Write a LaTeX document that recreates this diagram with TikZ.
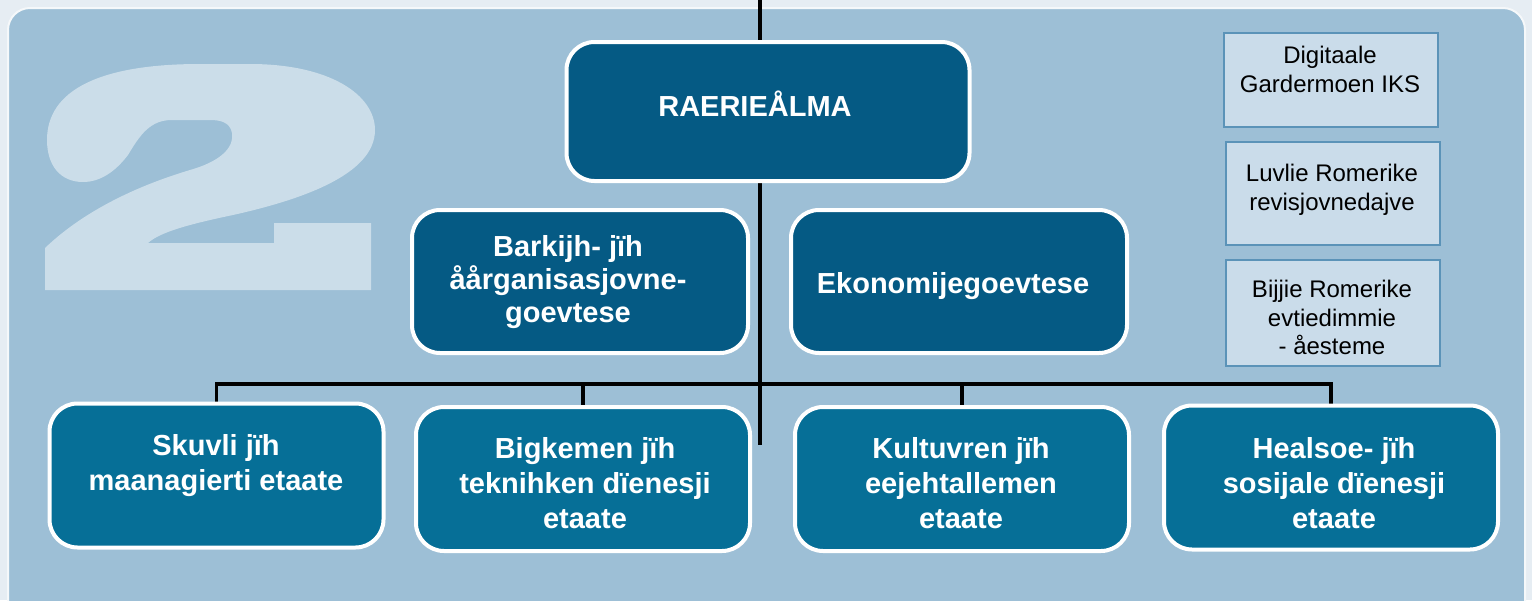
\documentclass[tikz,border=0pt]{standalone}
\usepackage{fontspec}
\setmainfont{Liberation Sans}
\usepackage{tikz}
\usetikzlibrary{positioning,backgrounds}
\definecolor{pagebg}{HTML}{E6EDF3}
\definecolor{panelbg}{HTML}{9DBFD6}
\definecolor{digitbg}{HTML}{CBDDE9}
\definecolor{boxdark}{HTML}{055A84}
\definecolor{boxteal}{HTML}{066F97}
\definecolor{notefill}{HTML}{CADCEA}
\definecolor{noteline}{HTML}{5B93B8}
\tikzset{
	lead/.style={draw=white,line width=2pt,fill=boxdark,rounded corners=14pt,minimum width=168pt,minimum height=71.5pt},
	unit/.style={draw=white,line width=2pt,fill=boxteal,rounded corners=14pt,minimum width=167pt,minimum height=72pt},
	note/.style={draw=noteline,line width=1pt,fill=notefill,minimum width=107pt},
	whitetext/.style={text=white,font=\bfseries\fontsize{14.5}{17.5}\selectfont,align=center,inner sep=0pt,anchor=north},
	notetext/.style={font=\fontsize{12}{14.3}\selectfont,align=center,inner sep=0pt,anchor=north},
	wire/.style={line width=1.6pt}
}

\begin{document}
\begin{tikzpicture}[x=0.5pt,y=-0.5pt]
			\useasboundingbox (0,0) rectangle (1532,600);
			\node[lead,minimum width=201.5pt,minimum height=69.5pt] (raerie) at (768,111.5) {};
			\node[lead] (barkijh) at (580,281.5) {};
			\node[lead] (ekonomi) at (959,281.5) {};
			\node[unit] (skuvle) at (216.5,475.5) {};
			\node[unit] (bigkeme) at (583,479) {};
			\node[unit] (kultuvre) at (962,479) {};
			\node[unit] (healsoe) at (1331,477.5) {};
			\node[note,minimum height=47pt] (digitaale) at (1331,79.5) {};
			\node[note,minimum height=51.5pt] (revisjovne) at (1332.5,193) {};
			\node[note,minimum height=53pt] (evtiedimmie) at (1333,312.5) {};
			\node[whitetext] (raerie-t) at (755,91) {RAERIEÅLMA};
			\node[whitetext,font=\bfseries\fontsize{14.5}{16.5}\selectfont] (barkijh-t) at (568,235) {Barkijh- jïh\\åårganisasjovne-\\goevtese};
			\node[whitetext] (ekonomi-t) at (953,272) {Ekonomijegoevtese};
			\node[whitetext] (skuvle-t) at (216,434) {Skuvli jïh\\maanagierti etaate};
			\node[whitetext] (bigkeme-t) at (585,437) {Bigkemen jïh\\teknihken dïenesji\\etaate};
			\node[whitetext] (kultuvre-t) at (961,437) {Kultuvren jïh\\eejehtallemen\\etaate};
			\node[whitetext] (healsoe-t) at (1334,437) {Healsoe- jïh\\sosijale dïenesji\\etaate};
			\node[notetext] (digitaale-t) at (1330,46) {Digitaale\\Gardermoen IKS};
			\node[notetext] (revisjovne-t) at (1332,164) {Luvlie Romerike\\revisjovnedajve};
			\node[notetext] (evtiedimmie-t) at (1332,280) {Bijjie Romerike\\evtiedimmie\\- åesteme};
			\coordinate (trunk-top) at (760,0);
			\coordinate (trunk-end) at (760,445);
			\coordinate (bus) at (0,384);
			\begin{scope}[on background layer]
				\fill[pagebg] (0,0) rectangle (1532,600);
				\filldraw[fill=panelbg,draw=pagebg!40!white,line width=1pt,rounded corners=11pt] (8,8) rectangle (1525,650);
				% big number two
				\fill[digitbg] (47,140) .. controls (47,90) and (100,64) .. (200,64) -- (250,64)
					.. controls (330,64) and (375,95) .. (375,130)
					.. controls (375,175) and (300,200) .. (233,215)
					.. controls (190,224) and (160,232) .. (148,243)
					-- (274,243) -- (274,223) -- (371,223) -- (371,290) -- (45,290) -- (45,248)
					.. controls (90,205) and (150,182) .. (190,170)
					.. controls (225,160) and (234,145) .. (232,133)
					.. controls (230,122) and (220,120) .. (210,120) -- (172,120)
					.. controls (150,120) and (140,135) .. (128,155)
					.. controls (115,172) and (100,182) .. (83,182)
					.. controls (60,182) and (47,165) .. (47,140) -- cycle;
				\draw[wire] (trunk-top) -- (trunk-end);
				\draw[wire] (skuvle.north) -- (skuvle.north |- bus) -- (healsoe.north |- bus) -- (healsoe.north);
				\foreach \n in {bigkeme,kultuvre} \draw[wire] (\n.north) -- (\n.north |- bus);
			\end{scope}
		\end{tikzpicture}
\end{document}
